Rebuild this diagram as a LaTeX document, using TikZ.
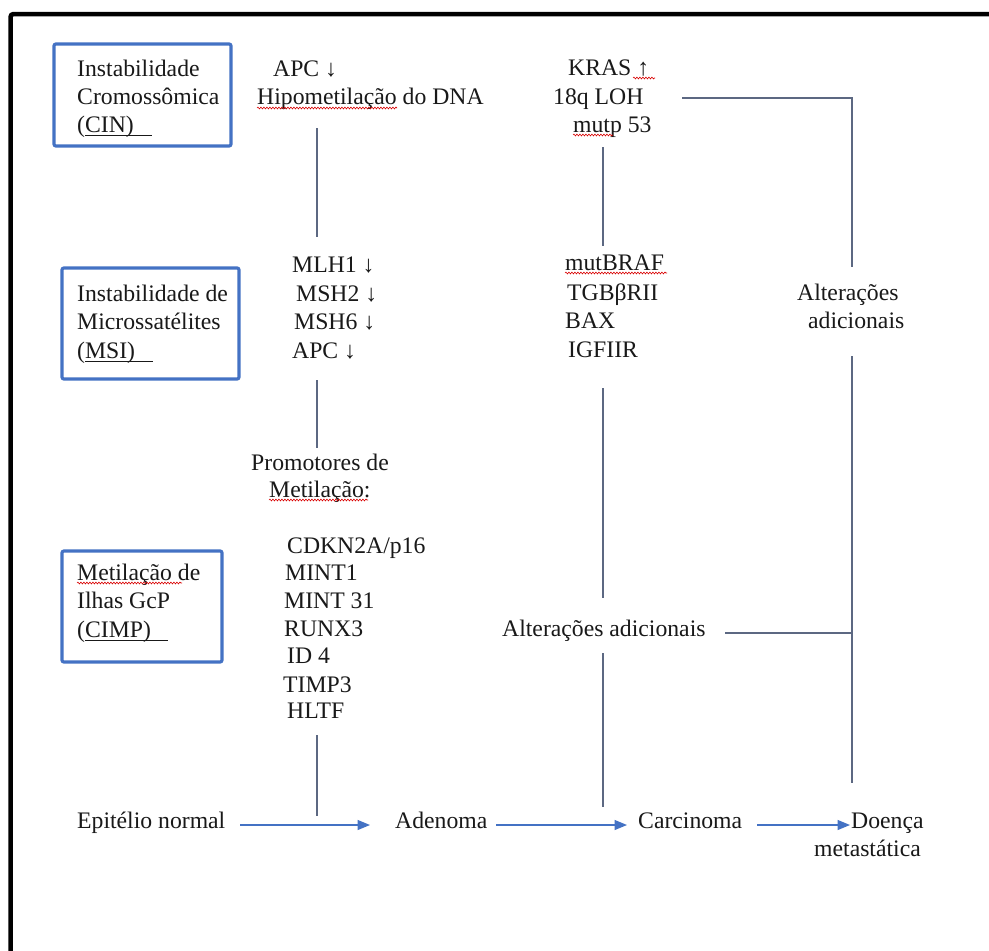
\documentclass[tikz,border=0pt]{standalone}
\usepackage{fontspec}
\setmainfont{Liberation Serif}
\usetikzlibrary{arrows.meta,decorations.pathmorphing}
\definecolor{boxblue}{RGB}{68,114,196}
\definecolor{conn}{RGB}{92,104,130}
\definecolor{arrblue}{RGB}{68,114,196}
\definecolor{ink}{RGB}{25,25,25}
\begin{document}
\begin{tikzpicture}[x=1pt,y=-1pt,
  txt/.style={anchor=base west,inner sep=0pt,text=ink,font=\fontsize{23.7}{28}\selectfont},
  catbox/.style={draw=boxblue,line width=3.2pt,rounded corners=2pt,inner sep=0pt},
  conline/.style={draw=conn,line width=1.4pt},
  flow/.style={draw=arrblue,line width=1.3pt,-{Triangle[length=12.5pt,width=10pt]}},
  spell/.style={draw=red!85!black,line width=0.6pt,decorate,decoration={snake,amplitude=0.9pt,segment length=3pt}},
  ulstyle/.style={draw=ink,line width=1pt}]
\useasboundingbox (0,0) rectangle (989,951);
\clip (0,0) rectangle (989,951);
\fill[white] (0,0) rectangle (989,951);
% outer frame (left and top visible)
\draw[line width=4.5pt,rounded corners=3pt] (10.5,970) -- (10.5,14) -- (1010,14);

% category boxes
\node[catbox,minimum width=177pt,minimum height=102pt] (cinbox) at (142.5,95) {};
\node[catbox,minimum width=177pt,minimum height=111pt] (msibox) at (150.5,323.5) {};
\node[catbox,minimum width=160pt,minimum height=111pt] (cimpbox) at (142,606.5) {};

\node[txt] (cin1) at (77,76) {Instabilidade};
\node[txt] (cin2) at (77,104) {Cromossômica};
\node[txt] (cin3) at (77,132) {(CIN)};
\node[txt] (msi1) at (77,301) {Instabilidade de};
\node[txt] (msi2) at (77,329) {Microssatélites};
\node[txt] (msi3) at (77,358) {(MSI)};
\node[txt] (cimp1) at (77,580) {Metilação de};
\node[txt] (cimp2) at (77,608) {Ilhas GcP};
\node[txt] (cimp3) at (77,637) {(CIMP)};

% underlines of abbreviations
\draw[ulstyle] (85,135.5) -- (152,135.5);
\draw[ulstyle] (85,361.5) -- (153,361.5);
\draw[ulstyle] (85,640.5) -- (168,640.5);

% middle column
\node[txt] (apc1) at (273,76) {APC ↓};
\node[txt] (hipo) at (257,104) {Hipometilação do DNA};
\node[txt] (mlh1) at (292,272) {MLH1 ↓};
\node[txt] (msh2) at (296,301) {MSH2 ↓};
\node[txt] (msh6) at (294,329) {MSH6 ↓};
\node[txt] (apc2) at (292,358) {APC ↓};
\node[txt] (prom1) at (251,470) {Promotores de};
\node[txt] (prom2) at (269,497) {Metilação:};
\node[txt] (cdkn) at (287,553) {CDKN2A/p16};
\node[txt] (mint1) at (285,580) {MINT1};
\node[txt] (mint31) at (284,608) {MINT 31};
\node[txt] (runx) at (284,636) {RUNX3};
\node[txt] (id4) at (287,663) {ID 4};
\node[txt] (timp) at (283,692) {TIMP3};
\node[txt] (hltf) at (287,718) {HLTF};

% KRAS column
\node[txt] (kras) at (568,75) {KRAS ↑};
\node[txt] (loh) at (553,104) {18q LOH};
\node[txt] (mutp) at (573,132) {mutp 53};
\node[txt] (braf) at (565,270) {mutBRAF};
\node[txt] (tgb) at (567,300) {TGBβRII};
\node[txt] (bax) at (565,328) {BAX};
\node[txt] (igf) at (568,357) {IGFIIR};

% additional alterations
\node[txt] (alt1) at (797,300) {Alterações};
\node[txt] (alt2) at (808,328) {adicionais};
\node[txt] (altmid) at (502,636) {Alterações adicionais};

% bottom row
\node[txt] (epi) at (77,828) {Epitélio normal};
\node[txt] (aden) at (395,828) {Adenoma};
\node[txt] (carc) at (638,828) {Carcinoma};
\node[txt] (doen) at (851,828) {Doença};
\node[txt] (meta) at (814,856) {metastática};

% spell-check marks
\draw[spell] (257,108) -- (397,108);
\draw[spell] (633,78) -- (655,78);
\draw[spell] (573,135) -- (613,135);
\draw[spell] (565,273) -- (667,273);
\draw[spell] (269,500) -- (368,500);
\draw[spell] (77,583) -- (182,583);

% connector end points
\coordinate (a1) at (317,128); \coordinate (a2) at (317,237);
\coordinate (b1) at (317,380); \coordinate (b2) at (317,448);
\coordinate (c1) at (317,735); \coordinate (c2) at (317,816);
\coordinate (d1) at (603,147); \coordinate (d2) at (603,246);
\coordinate (e1) at (603,388); \coordinate (e2) at (603,598);
\coordinate (f1) at (603,653); \coordinate (f2) at (603,807);
\coordinate (g1) at (682,98);  \coordinate (gc) at (852,98); \coordinate (g2) at (852,267);
\coordinate (h1) at (852,356); \coordinate (h2) at (852,783);
\coordinate (i1) at (725,633); \coordinate (i2) at (852,633);
\coordinate (p1) at (240,825); \coordinate (p2) at (370,825);
\coordinate (q1) at (496,825); \coordinate (q2) at (627,825);
\coordinate (r1) at (757,825); \coordinate (r2) at (850,825);

\draw[conline] (a1) -- (a2);
\draw[conline] (b1) -- (b2);
\draw[conline] (c1) -- (c2);
\draw[conline] (d1) -- (d2);
\draw[conline] (e1) -- (e2);
\draw[conline] (f1) -- (f2);
\draw[conline] (g1) -- (gc) -- (g2);
\draw[conline] (h1) -- (h2);
\draw[conline] (i1) -- (i2);

\draw[flow] (p1) -- (p2);
\draw[flow] (q1) -- (q2);
\draw[flow] (r1) -- (r2);
\end{tikzpicture}
\end{document}
